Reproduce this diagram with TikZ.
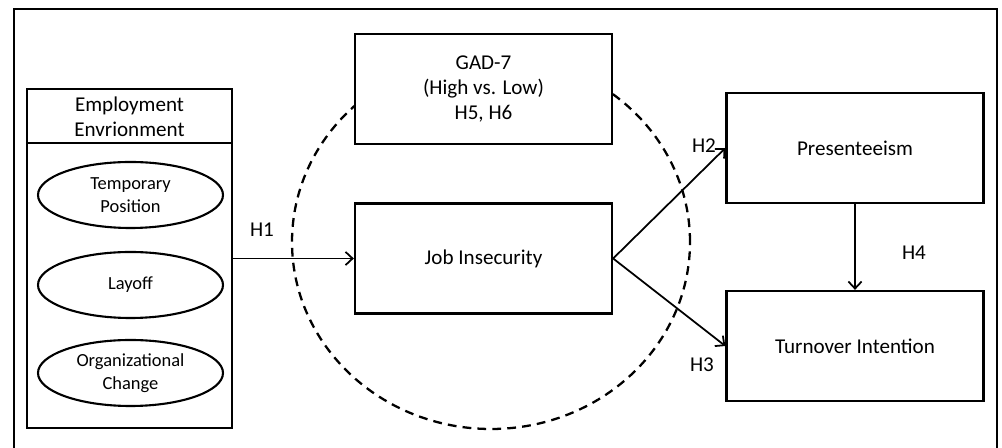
\documentclass[tikz,border=0pt]{standalone}
\usepackage{fontspec}
\setmainfont{Carlito}
\usetikzlibrary{arrows.meta, shapes.geometric}

\tikzset{
	box/.style={draw, line width=1.3pt, fill=white, minimum width=5.14cm, minimum height=2.2cm, align=center, inner sep=0pt},
	oval/.style={draw, ellipse, line width=1.2pt, minimum width=3.7cm, minimum height=1.32cm, align=center, inner sep=0pt, font=\fontsize{10.5}{13}\selectfont},
	hyp/.style={line width=1pt, -{Straight Barb[length=4pt,width=7.5pt]}},
	hlabel/.style={inner sep=0pt}
}

\begin{document}
\begin{tikzpicture}[font=\fontsize{12}{14.2}\selectfont]
	
	\useasboundingbox (0,0) rectangle (20.04,8.96);
	
	% Frame
	\draw [line width=1.1pt] (0.28,-0.3) rectangle (19.94,8.78);
	
	% Moderator circle
	\draw [line width=1.3pt, dash pattern=on 5pt off 3.5pt] (9.82,4.12) ellipse (3.98 and 3.74);
	
	%% EMPLOYMENT ENVIRONMENT
	% Main
	\node [draw, line width=1.3pt, minimum width=4.1cm, minimum height=6.78cm, inner sep=0pt] (env) at (2.59,3.79) {};
	
	% Header
	\draw [line width=0.8pt] ([yshift=-1.1cm]env.north west) -- ([yshift=-1.1cm]env.north east);
	\node [align=center] (envtitle) at (2.59,6.62) {Employment\\Envrionment};
	
	% Factors
	\foreach \y/\name/\txt in {5.06/temp/{Temporary\\Position}, 3.26/layoff/Layoff, 1.50/org/{Organizational\\Change}}
	{
		\node [oval] (\name) at (2.61,\y) {\txt};
	}
	
	%% MODEL BOXES
	\node [box] (gad)  at (9.67,7.18)  {GAD-7\\(High vs. Low)\\H5, H6};
	\node [box] (job)  at (9.67,3.79)  {Job Insecurity};
	\node [box] (pres) at (17.10,6.00) {Presenteeism};
	\node [box] (turn) at (17.10,2.04) {Turnover Intention};
	
	% Paths
	\draw [hyp] (env) -- (job);
	\draw [hyp] (job.east) -- (pres.west);
	\draw [hyp] (job.east) -- (turn.west);
	\draw [hyp] (pres) -- (turn);
	
	% Hypothesis labels
	\node [hlabel] (h1) at (5.24,4.36)  {H1};
	\node [hlabel] (h2) at (14.08,6.04) {H2};
	\node [hlabel] (h3) at (14.04,1.66) {H3};
	\node [hlabel] (h4) at (18.28,3.90) {H4};
	
\end{tikzpicture}
\end{document}
